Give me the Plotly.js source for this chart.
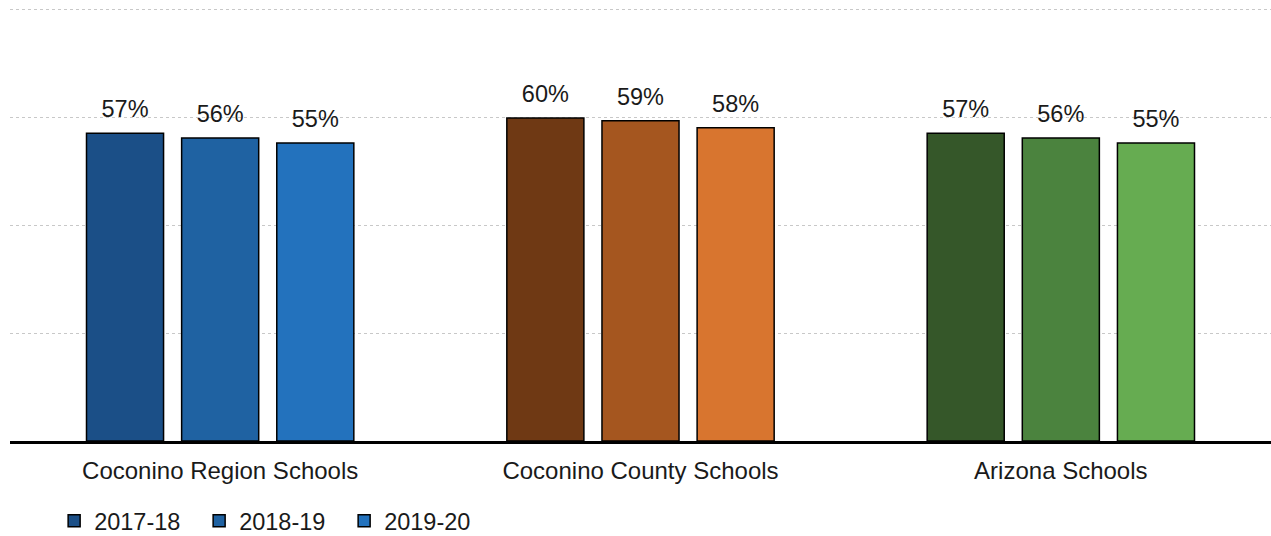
<!DOCTYPE html>
<html>
<head>
<meta charset="utf-8">
<script src="https://cdn.plot.ly/plotly-3.0.1.min.js"></script>
<style>html,body{margin:0;padding:0;background:#fff;}#chart{width:1271px;height:536px;}</style>
</head>
<body>
<div id="chart"></div>
<script>
const categories = ['Coconino Region Schools', 'Coconino County Schools', 'Arizona Schools'];
const years = ['2017-18', '2018-19', '2019-20'];
const values2017 = [57.0, 59.8, 57.0];
const values2018 = [56.1, 59.3, 56.1];
const values2019 = [55.2, 58.0, 55.2];
const labels2017 = ['57%', '60%', '57%'];
const labels2018 = ['56%', '59%', '56%'];
const labels2019 = ['55%', '58%', '55%'];
const colors2017 = ['#1B4F87', '#6F3914', '#355729'];
const colors2018 = ['#1F62A2', '#A5561F', '#4B833E'];
const colors2019 = ['#2372BD', '#D8752F', '#66AC51'];

const seriesValues = [values2017, values2018, values2019];
const seriesLabels = [labels2017, labels2018, labels2019];
const seriesColors = [colors2017, colors2018, colors2019];

const FONT = '"Liberation Sans", Arial, sans-serif';
const GAP = 0.321;

const traces = [];
years.forEach((yr, i) => {
  traces.push({
    type: 'bar',
    name: yr,
    x: categories,
    y: seriesValues[i],
    marker: {color: seriesColors[i], line: {color: '#000', width: 1.5}},
    hoverinfo: 'none'
  });
});
years.forEach((yr, i) => {
  traces.push({
    type: 'scatter',
    mode: 'markers+text',
    x: categories,
    y: seriesValues[i],
    text: seriesLabels[i],
    textposition: 'top center',
    textfont: {family: FONT, size: 23.5, color: '#1a1a1a'},
    marker: {size: 15, color: 'rgba(0,0,0,0)'},
    showlegend: false,
    hoverinfo: 'none',
    cliponaxis: false
  });
});

const layout = {
  width: 1271, height: 536,
  margin: {l: 10, r: 0, t: 7, b: 95, autoexpand: false},
  paper_bgcolor: '#fff', plot_bgcolor: '#fff',
  barmode: 'group', bargap: GAP, bargroupgap: 0.19,
  scattermode: 'group', scattergap: GAP,
  font: {family: FONT, size: 23.5, color: '#1a1a1a'},
  showlegend: true,
  legend: {
    orientation: 'h', x: 0.035, xanchor: 'left', y: -0.235, yanchor: 'bottom',
    entrywidth: 100, entrywidthmode: 'pixels',
    font: {family: FONT, size: 23.5, color: '#1a1a1a'},
    traceorder: 'normal'
  },
  xaxis: {
    showline: true, linecolor: '#000', linewidth: 3,
    ticks: 'outside', ticklen: 6, tickcolor: 'rgba(0,0,0,0)',
    tickfont: {family: FONT, size: 24, color: '#1a1a1a'},
    showgrid: false, fixedrange: true, automargin: false
  },
  yaxis: {
    range: [0, 80.37], tick0: 0, dtick: 20, showticklabels: false,
    showgrid: true, gridcolor: '#c8c8c8', gridwidth: 1, griddash: 'dot',
    zeroline: false, showline: false, ticks: '', fixedrange: true, automargin: false
  }
};

Plotly.newPlot('chart', traces, layout, {displayModeBar: false, staticPlot: true});
</script>
</body>
</html>
